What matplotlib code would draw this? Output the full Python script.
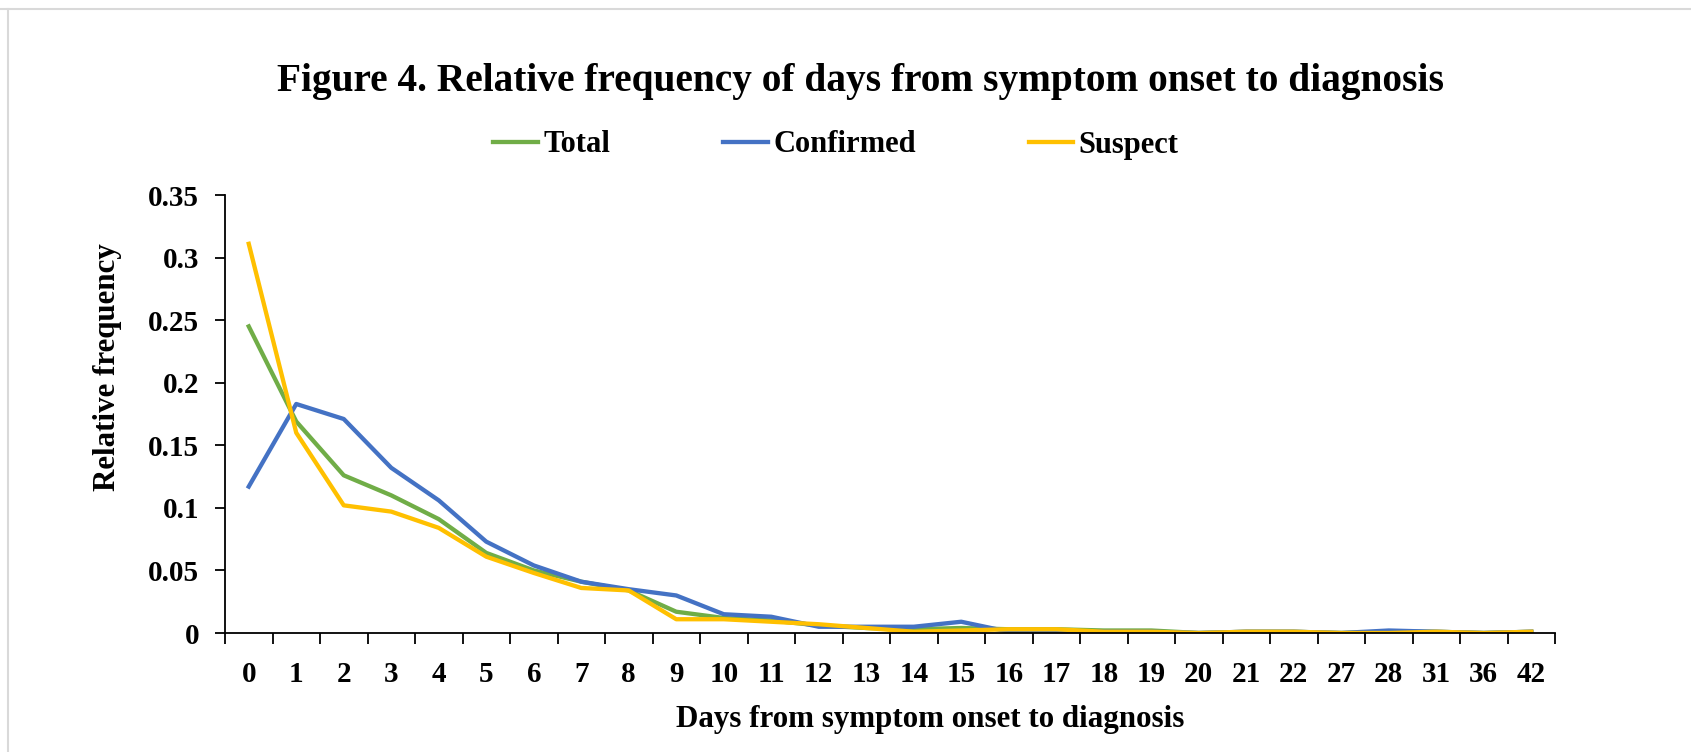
import numpy as np
import matplotlib.pyplot as plt
from matplotlib.lines import Line2D

days = ['0', '1', '2', '3', '4', '5', '6', '7', '8', '9', '10', '11', '12', '13',
        '14', '15', '16', '17', '18', '19', '20', '21', '22', '27', '28', '31', '36', '42']

total = [0.245, 0.169, 0.126, 0.110, 0.091, 0.064, 0.050, 0.041, 0.034, 0.017,
         0.012, 0.010, 0.006, 0.004, 0.003, 0.004, 0.003, 0.003, 0.002, 0.002,
         0.000, 0.001, 0.001, 0.000, 0.001, 0.001, 0.000, 0.001]
confirmed = [0.117, 0.183, 0.171, 0.132, 0.106, 0.073, 0.054, 0.041, 0.035, 0.030,
             0.015, 0.013, 0.005, 0.005, 0.005, 0.009, 0.001, 0.001, 0.001, 0.001,
             0.000, 0.001, 0.001, 0.000, 0.002, 0.001, 0.000, 0.001]
suspect = [0.311, 0.160, 0.102, 0.097, 0.084, 0.061, 0.048, 0.036, 0.034, 0.011,
           0.011, 0.009, 0.007, 0.004, 0.001, 0.002, 0.003, 0.003, 0.001, 0.001,
           0.000, 0.001, 0.001, 0.000, 0.000, 0.001, 0.000, 0.001]

plt.rcParams['font.family'] = ['Liberation Serif', 'DejaVu Serif']
plt.rcParams['font.weight'] = 'bold'

W, H = 1691, 752
fig = plt.figure(figsize=(W / 100, H / 100), dpi=100)
# axes box in pixels: x 225..1555, y 195..633
ax = fig.add_axes([225 / W, 1 - 633 / H, (1555 - 225) / W, (633 - 195) / H])

x = np.arange(len(days))
ax.plot(x, total, color='#70AD47', lw=3.1, label='Total', solid_joinstyle='round')
ax.plot(x, confirmed, color='#4472C4', lw=3.1, label='Confirmed', solid_joinstyle='round')
ax.plot(x, suspect, color='#FFC000', lw=3.1, label='Suspect', solid_joinstyle='round')

ax.set_xlim(-0.5, len(days) - 0.5)
ax.set_ylim(0, 0.35)
ax.set_yticks(np.arange(0, 0.351, 0.05))
ax.set_yticklabels(['0', '0.05', '0.1', '0.15', '0.2', '0.25', '0.3', '0.35'])

# category labels in the middle, tick marks on the boundaries
ax.set_xticks(x)
ax.set_xticklabels(days)
ax.set_xticks(np.arange(-0.5, len(days)), minor=True)
ax.tick_params(axis='x', which='major', length=0, pad=20, labelsize=21)
ax.tick_params(axis='x', which='minor', length=8, width=1.3, direction='out')
ax.tick_params(axis='y', length=7.5, width=1.3, direction='out', pad=11, labelsize=21)

for s in ['top', 'right']:
    ax.spines[s].set_visible(False)
for s in ['left', 'bottom']:
    ax.spines[s].set_linewidth(1.3)

fig.text(0.5086, 1 - 82 / H, 'Figure 4. Relative frequency of days from symptom onset to diagnosis',
         ha='center', va='center', fontsize=28.4, fontweight='bold')
fig.text(930 / W, 1 - 719 / H, 'Days from symptom onset to diagnosis',
         ha='center', va='center', fontsize=22.3, fontweight='bold')
fig.text(108 / W, 1 - 367 / H, 'Relative frequency', rotation=90,
         ha='center', va='center', fontsize=22.3, fontweight='bold')

fig.legend(loc='center', bbox_to_anchor=(836 / W, 1 - 145 / H), ncol=3,
           frameon=False, fontsize=22, handlelength=1.45, handletextpad=0.18,
           columnspacing=3.7)

# thin grey frame on top and left like the screenshot
fig.add_artist(Line2D([0, 1], [1 - 9 / H, 1 - 9 / H], color='#d9d9d9', lw=1.5,
                      transform=fig.transFigure))
fig.add_artist(Line2D([8 / W, 8 / W], [0, 1 - 9 / H], color='#d9d9d9', lw=1.5,
                      transform=fig.transFigure))

fig.savefig('out.png', dpi=100)
